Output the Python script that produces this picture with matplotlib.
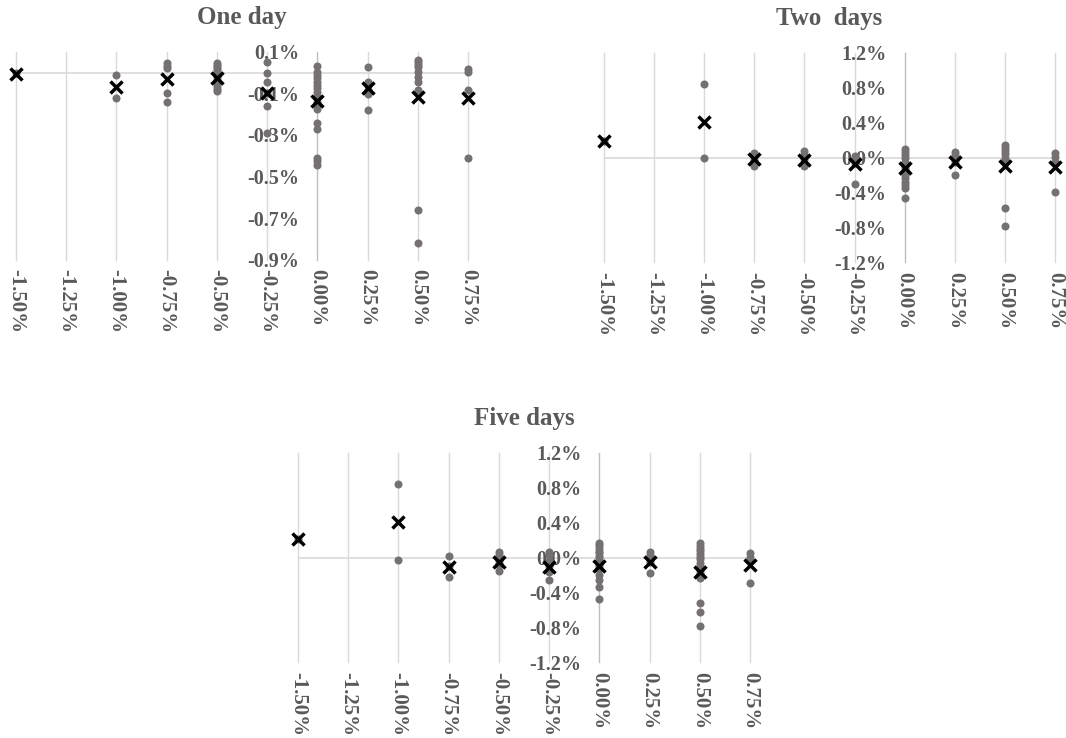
import matplotlib.pyplot as plt
from matplotlib.ticker import FuncFormatter

# x levels (%), same for all three panels
x_levels = [-1.50, -1.25, -1.00, -0.75, -0.50, -0.25, 0.00, 0.25, 0.50, 0.75]
dot_levels = [-1.50, -1.00, -0.75, -0.50, -0.25, 0.00, 0.25, 0.50, 0.75]

# One day: individual observations (%) and average (x marker)
one_day_dots = [
    [0.0],
    [-0.012, -0.121],
    [0.044, 0.031, 0.020, -0.100, -0.143],
    [0.044, 0.035, 0.026, 0.017, 0.008, 0.0, -0.01, -0.02, -0.035, -0.05, -0.065, -0.08, -0.09],
    [0.05, -0.004, -0.047, -0.10, -0.163, -0.289],
    [0.033, 0.004, -0.012, -0.028, -0.044, -0.060, -0.076, -0.092, -0.116, -0.140,
     -0.156, -0.177, -0.241, -0.273, -0.41, -0.425, -0.445],
    [0.028, -0.044, -0.06, -0.084, -0.105, -0.18],
    [0.06, 0.049, 0.036, 0.025, 0.004, -0.02, -0.044, -0.084, -0.661, -0.82],
    [0.015, 0.004, -0.084, -0.41],
]
one_day_avg = [-0.005, -0.068, -0.031, -0.028, -0.097, -0.135, -0.076, -0.116, -0.124]

# Two days
two_day_dots = [
    [0.19],
    [0.838, -0.01],
    [0.05, 0.02, -0.03, -0.07, -0.1],
    [0.07, 0.03, -0.02, -0.06, -0.1],
    [0.02, -0.02, -0.06, -0.3],
    [0.097, 0.066, 0.029, -0.009, -0.048, -0.086, -0.124, -0.162, -0.2, -0.239,
     -0.277, -0.315, -0.353, -0.468],
    [0.066, 0.029, -0.009, -0.05, -0.2],
    [0.143, 0.105, 0.07, 0.035, 0.0, -0.03, -0.06, -0.58, -0.79],
    [0.055, 0.009, -0.048, -0.399],
]
two_day_avg = [0.19, 0.41, -0.02, -0.03, -0.078, -0.117, -0.055, -0.10, -0.113]

# Five days
five_day_dots = [
    [0.208],
    [0.838, -0.029],
    [0.017, -0.1, -0.22],
    [0.06, 0.03, 0.0, -0.03, -0.06, -0.09, -0.151],
    [0.067, 0.029, -0.04, -0.1, -0.17, -0.258],
    [0.17, 0.14, 0.11, 0.08, 0.05, 0.02, -0.01, -0.04, -0.07, -0.10, -0.13, -0.2,
     -0.26, -0.334, -0.475],
    [0.067, 0.03, -0.01, -0.05, -0.174],
    [0.162, 0.13, 0.1, 0.07, 0.04, 0.01, -0.02, -0.06, -0.1, -0.14, -0.18, -0.239,
     -0.517, -0.62, -0.78],
    [0.048, 0.01, -0.03, -0.296],
]
five_day_avg = [0.208, 0.403, -0.105, -0.048, -0.105, -0.097, -0.048, -0.162, -0.086]

one_day_yticks = [0.1, -0.1, -0.3, -0.5, -0.7, -0.9]
multi_day_yticks = [1.2, 0.8, 0.4, 0.0, -0.4, -0.8, -1.2]

TEXT = '#595959'
GRID = '#d9d9d9'
DOT = '#767171'

plt.rcParams['font.family'] = ['Liberation Serif', 'DejaVu Serif']
plt.rcParams['font.weight'] = 'bold'

fig = plt.figure(figsize=(10.66, 7.38), dpi=100)


def panel(rect, title, dots, avg, yticks):
    ax = fig.add_axes(rect)
    for x, vals in zip(dot_levels, dots):
        ax.plot([x] * len(vals), vals, 'o', color=DOT, markersize=5.8,
                markeredgewidth=0, zorder=3, clip_on=False)
    ax.plot(dot_levels, avg, 'x', color='black', markersize=8.5,
            markeredgewidth=2.5, zorder=4, clip_on=False)

    ax.set_xlim(-1.5, 0.75)
    ax.set_ylim(min(yticks), max(yticks))
    ax.set_xticks(x_levels)
    ax.set_yticks(yticks)
    ax.xaxis.set_major_formatter(FuncFormatter(lambda v, p: '%.2f%%' % v))
    ax.yaxis.set_major_formatter(FuncFormatter(lambda v, p: '%.1f%%' % (v + 0.0)))
    for lab in ax.get_xticklabels():
        lab.set_rotation(270)
    ax.tick_params(axis='x', length=0, pad=7, labelsize=15, labelcolor=TEXT)
    ax.tick_params(axis='y', length=0, pad=13, labelsize=14.5, labelcolor=TEXT)
    for s in ax.spines.values():
        s.set_visible(False)
    ax.spines['left'].set_position(('data', 0))

    for x in x_levels:
        ax.axvline(x, color='#bfbfbf' if x == 0 else GRID, lw=1, zorder=1, clip_on=False)
    ax.axhline(0, color=GRID, lw=1.2, zorder=1)

    ax.set_title(title, fontsize=18, color=TEXT, fontweight='bold', pad=20)
    return ax


panel([16 / 1066, 1 - 259.7 / 738, 452 / 1066, 208 / 738],
      'One day', one_day_dots, one_day_avg, one_day_yticks)
panel([604 / 1066, 1 - 262.3 / 738, 451 / 1066, 209.6 / 738],
      'Two  days', two_day_dots, two_day_avg, multi_day_yticks)
panel([298 / 1066, 1 - 662.3 / 738, 452 / 1066, 209.6 / 738],
      'Five days', five_day_dots, five_day_avg, multi_day_yticks)

fig.savefig('out.png', dpi=100, facecolor='white')
